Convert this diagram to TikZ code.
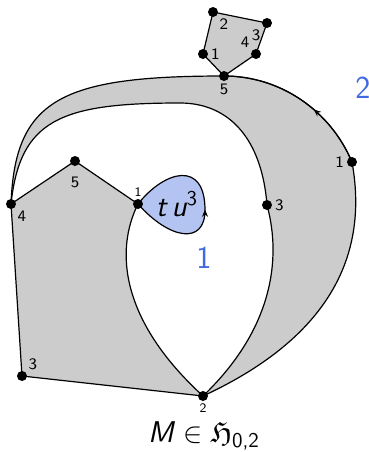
\documentclass[tikz,border=0pt]{standalone}
\usepackage{amsmath}
\usepackage{amssymb}
\renewcommand{\familydefault}{\sfdefault}
\usetikzlibrary{arrows.meta,decorations.markings}

\definecolor{regiongray}{RGB}{204,204,204}
\definecolor{loopblue}{RGB}{180,196,242}
\definecolor{labelblue}{RGB}{64,106,224}

\tikzset{every picture/.style={line width=0.6pt}}
\tikzset{
  dot/.style={circle,fill=black,inner sep=0pt,minimum size=5pt},
  lbl/.style={font=\fontsize{8}{8}\selectfont,inner sep=1pt},
  tinylbl/.style={font=\fontsize{6.5}{6.5}\selectfont,inner sep=0.5pt},
  bignum/.style={font=\fontsize{16}{16}\selectfont,text=labelblue},
  bigtext/.style={font=\fontsize{15}{15}\selectfont,inner sep=0pt},
  midarrow/.style={postaction={decorate},decoration={markings,
    mark=at position #1 with {\arrow{Stealth[length=3.5pt,width=3pt]}}}},
}

\begin{document}
\begin{tikzpicture}[x=0.5pt,y=0.5pt,yscale=-1,xscale=1]
\useasboundingbox (0,0) rectangle (369,452);

%Points of the small pentagon
\coordinate (a1) at (203,54);
\coordinate (a2) at (213,12);
\coordinate (a3) at (267,23);
\coordinate (a4) at (256,54);
\coordinate (a5) at (224,76);
%Points of the big region
\coordinate (v1) at (138,204);
\coordinate (v2) at (203,396);
\coordinate (v3) at (22,376);
\coordinate (v4) at (11,204);
\coordinate (v5) at (75,161);
\coordinate (w1) at (352,162);
\coordinate (w3) at (267,205);
\coordinate (itop) at (180,103);
\coordinate (lr) at (205,210);

%Shape: outer region
\fill [regiongray] (v4) .. controls (15,100) and (60,76) .. (a5) .. controls (280,76) and (330,110) .. (w1) .. controls (368,250) and (335,335) .. (v2) -- (v3) -- cycle ;
%Shape: hole
\fill [white] (v4) .. controls (20,120) and (60,103) .. (itop) .. controls (230,103) and (262,140) .. (w3) .. controls (282,260) and (272,330) .. (v2) .. controls (120,320) and (115,250) .. (v1) -- (v5) -- cycle ;

%Outer boundary
\draw (v4) .. controls (15,100) and (60,76) .. (a5) .. controls (280,76) and (330,110) .. (w1) .. controls (368,250) and (335,335) .. (v2) -- (v3) -- (v4) -- (v5) -- (v1) ;
\draw [midarrow=0.4] (w1) .. controls (330,110) and (280,76) .. (a5) ;
%Inner boundary
\draw (v4) .. controls (20,120) and (60,103) .. (itop) .. controls (230,103) and (262,140) .. (w3) .. controls (282,260) and (272,330) .. (v2) .. controls (120,320) and (115,250) .. (v1) ;

%Shape: small pentagon
\draw [fill=regiongray] (a1) -- (a2) -- (a3) -- (a4) -- (a5) -- cycle ;

%Shape: loop
\draw [fill=loopblue,midarrow=0.48] (v1) .. controls (170,240) and (205,245) .. (lr) .. controls (205,160) and (165,170) .. (v1) ;

%Dots
\node [dot,label={[lbl]right:1}] (d-a1) at (a1) {};
\node [dot,label={[lbl]below right:2}] (d-a2) at (a2) {};
\node [dot,label={[lbl]below left:3}] (d-a3) at (a3) {};
\node [dot,label={[lbl]above left:4}] (d-a4) at (a4) {};
\node [dot,label={[lbl]below:5}] (d-a5) at (a5) {};
\node [dot,label={[tinylbl]above:1}] (d-v1) at (v1) {};
\node [dot,label={[tinylbl]below:2}] (d-v2) at (v2) {};
\node [dot,label={[lbl]above right:3}] (d-v3) at (v3) {};
\node [dot,label={[lbl]below right:4}] (d-v4) at (v4) {};
\node [dot,label={[lbl,label distance=4pt]below:5}] (d-v5) at (v5) {};
\node [dot,label={[lbl]left:1}] (d-w1) at (w1) {};
\node [dot,label={[lbl]right:3}] (d-w3) at (w3) {};

% Text Node
\node [bigtext] (tu) at (177,204) {\itshape t\,u\textsuperscript{\upshape 3}};
% Text Node
\node [bignum] (n2) at (363,88) {2};
% Text Node
\node [bignum] (n1) at (204,258) {1};
% Text Node
\node [bigtext] (cap) at (204,436) {{\itshape M} $\in \mathfrak{H}_{\text{0,2}}$};

\end{tikzpicture}
\end{document}
